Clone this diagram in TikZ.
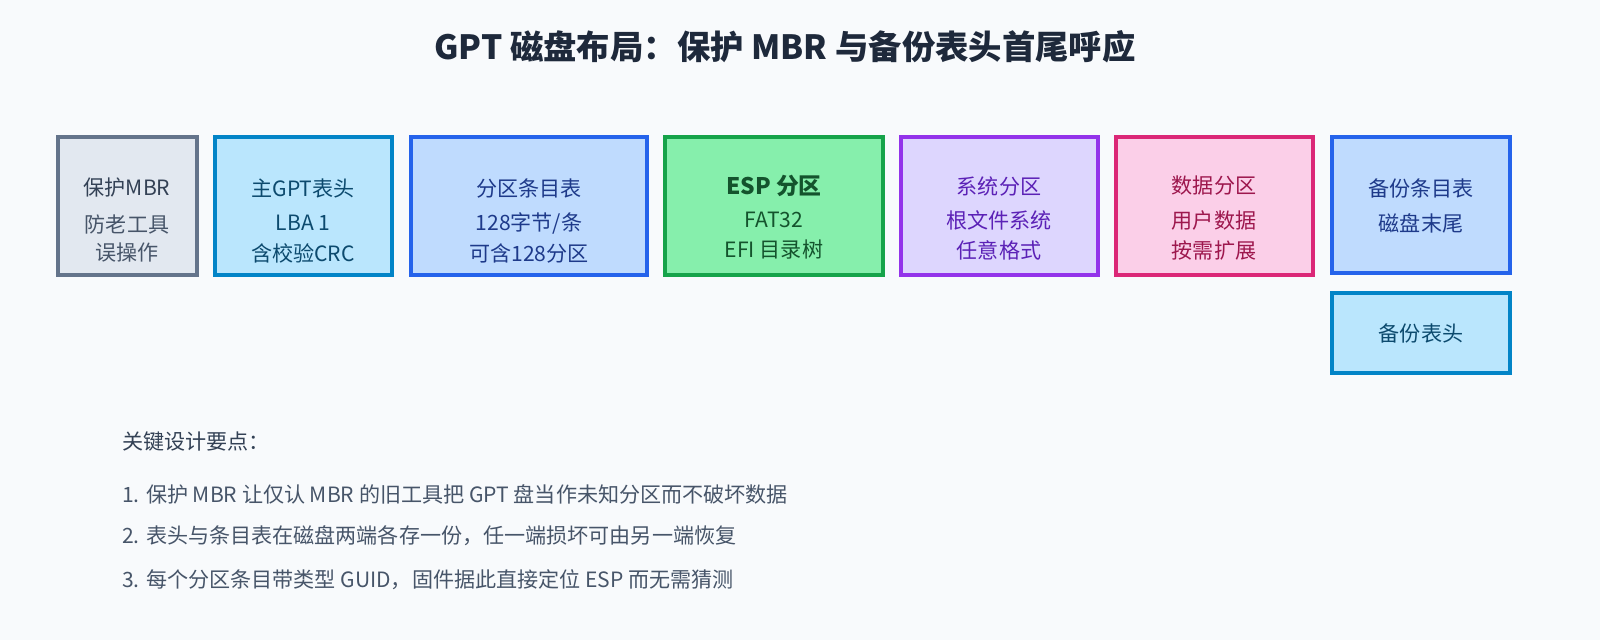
\documentclass[tikz,border=0pt]{standalone}
\usepackage{fontspec}
\setmainfont{Noto Sans CJK SC}
\definecolor{bg}{HTML}{F8FAFC}
\definecolor{tc}{HTML}{1E293B}
\definecolor{nc}{HTML}{475569}
\definecolor{hc}{HTML}{334155}
\definecolor{grayB}{HTML}{64748B}\definecolor{grayF}{HTML}{E2E8F0}
\definecolor{cyanB}{HTML}{0284C7}\definecolor{cyanF}{HTML}{BAE6FD}\definecolor{cyanT}{HTML}{0C4A6E}
\definecolor{blueB}{HTML}{2563EB}\definecolor{blueF}{HTML}{BFDBFE}\definecolor{blueT}{HTML}{1E3A8A}
\definecolor{grnB}{HTML}{16A34A}\definecolor{grnF}{HTML}{86EFAC}\definecolor{grnT}{HTML}{14532D}
\definecolor{purB}{HTML}{9333EA}\definecolor{purF}{HTML}{DDD6FE}\definecolor{purT}{HTML}{5B21B6}
\definecolor{pnkB}{HTML}{DB2777}\definecolor{pnkF}{HTML}{FBCFE8}\definecolor{pnkT}{HTML}{9D174D}
\tikzset{x=0.02cm,y=-0.02cm,
 bx/.style n args={2}{draw=#1,fill=#2,line width=1.9pt},
 t/.style={font=\fontsize{12}{13}\selectfont,text=#1},
 note/.style={anchor=west,font=\fontsize{12}{13}\selectfont,text=nc}}
\begin{document}
\begin{tikzpicture}
\fill[bg] (0,0) rectangle (1600,640);
\useasboundingbox (0,0) rectangle (1600,640);
\node[font=\fontsize{19}{21}\selectfont\bfseries,text=tc] (title) at (785,47) {GPT 磁盘布局：保护 MBR 与备份表头首尾呼应};
\draw[bx={grayB}{grayF}] (58,137) rectangle (197,275);
\draw[bx={cyanB}{cyanF}] (215,137) rectangle (392,275);
\draw[bx={blueB}{blueF}] (411,137) rectangle (647,275);
\draw[bx={grnB}{grnF},line width=2.8pt] (665,137) rectangle (883,275);
\draw[bx={purB}{purF}] (901,137) rectangle (1098,275);
\draw[bx={pnkB}{pnkF}] (1116,137) rectangle (1313,275);
\draw[bx={blueB}{blueF}] (1332,137) rectangle (1510,273);
\draw[bx={cyanB}{cyanF}] (1332,293) rectangle (1510,373);
\node[t=hc] (a1) at (127,188) {保护MBR};
\node[t=nc] (a2) at (127,224) {防老工具};
\node[t=nc] (a3) at (127,253) {误操作};
\node[t=cyanT] (c1) at (303,188) {主GPT表头};
\node[t=cyanT] (c2) at (303,223) {LBA 1};
\node[t=cyanT] (c3) at (303,253) {含校验CRC};
\node[t=blueT] (d1) at (529,188) {分区条目表};
\node[t=blueT] (d2) at (529,223) {128字节/条};
\node[t=blueT] (d3) at (529,253) {可含128分区};
\node[t=grnT,font=\fontsize{13}{14}\selectfont\bfseries] (e1) at (774,186) {ESP 分区};
\node[t=grnT] (e2) at (774,220) {FAT32};
\node[t=grnT] (e3) at (774,250) {EFI 目录树};
\node[t=purT] (f1) at (999,186) {系统分区};
\node[t=purT] (f2) at (999,220) {根文件系统};
\node[t=purT] (f3) at (999,250) {任意格式};
\node[t=pnkT] (g1) at (1214,186) {数据分区};
\node[t=pnkT] (g2) at (1214,220) {用户数据};
\node[t=pnkT] (g3) at (1214,250) {按需扩展};
\node[t=blueT] (h1) at (1421,188) {备份条目表};
\node[t=blueT] (h2) at (1421,223) {磁盘末尾};
\node[t=cyanT] (i1) at (1421,333) {备份表头};
\node[note,text=hc] (n0) at (116,441) {关键设计要点：};
\node[note] (n1) at (116,494) {1. 保护 MBR 让仅认 MBR 的旧工具把 GPT 盘当作未知分区而不破坏数据};
\node[note] (n2) at (116,536) {2. 表头与条目表在磁盘两端各存一份，任一端损坏可由另一端恢复};
\node[note] (n3) at (116,580) {3. 每个分区条目带类型 GUID，固件据此直接定位 ESP 而无需猜测};
\end{tikzpicture}
\end{document}
